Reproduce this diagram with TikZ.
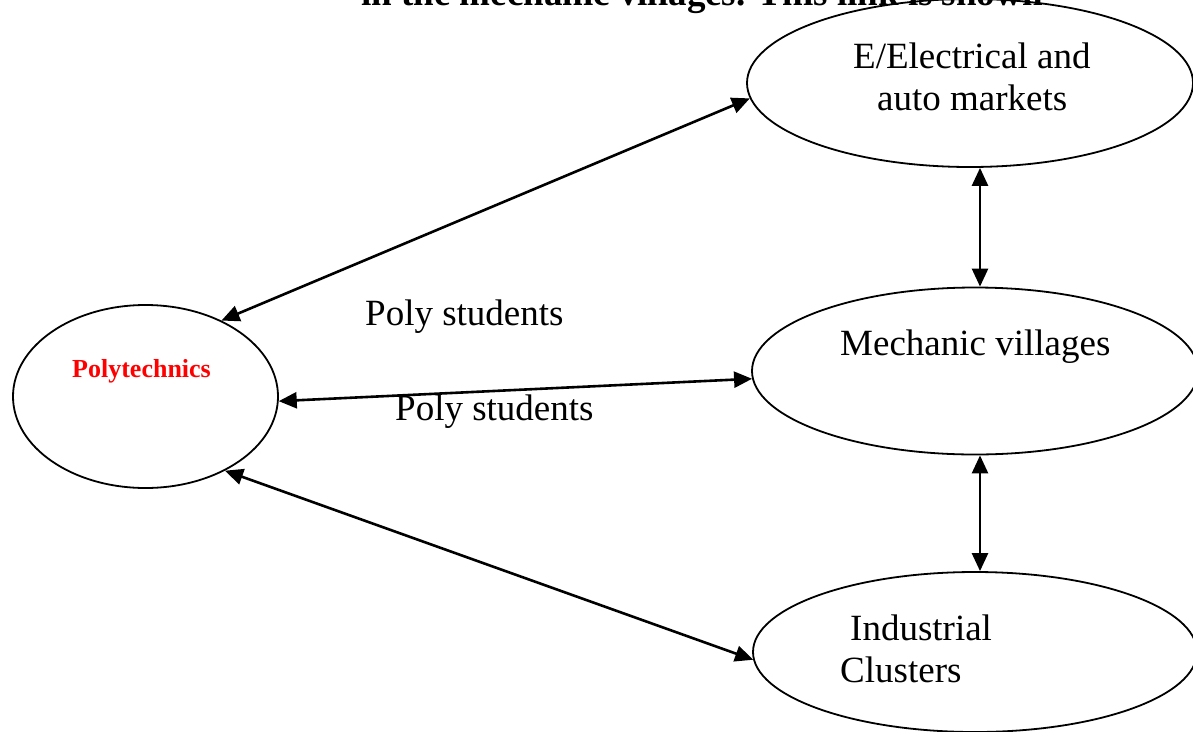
\documentclass[tikz,border=0pt]{standalone}
\usepackage{fontspec}
\setmainfont{Liberation Serif}
\usetikzlibrary{arrows.meta,shapes.geometric}

\tikzset{
  oval/.style={ellipse, draw=black, line width=1.8pt, inner sep=0pt},
  link/.style={line width=2.6pt, {Triangle[length=18pt,width=16pt]}-{Triangle[length=18pt,width=16pt]}},
  lbl/.style={inner sep=0pt, anchor=base west, font=\fontsize{37}{42}\selectfont},
}

\begin{document}
\begin{tikzpicture}[x=1pt, y=-1pt]
  \useasboundingbox (0,0) rectangle (1193,731);

  % running text line above the figure
  \node[lbl, font=\fontsize{37}{42}\selectfont\bfseries] (caption) at (361,5)
    {in the mechanic villages. This link is shown};

  % the four ovals
  \node[oval, minimum width=265pt, minimum height=183pt] (poly) at (145.5,396.5) {};
  \node[oval, minimum width=446pt, minimum height=168pt] (elec) at (970,83) {};
  \node[oval, minimum width=446pt, minimum height=167pt] (mech) at (975,371) {};
  \node[oval, minimum width=444pt, minimum height=160pt] (ind)  at (975,652) {};

  % connectors
  \draw[link] (poly.45)  -- (elec.184.6);
  \draw[link] (poly.-2.4) -- (mech.182);
  \draw[link] (poly.-43.5) -- (ind.182.3);
  \draw[link] ([xshift=10pt]elec.south) -- ([xshift=5pt]mech.north);
  \draw[link] ([xshift=5pt]mech.south) -- ([xshift=5pt]ind.north);

  % labels
  \node[lbl, font=\fontsize{26}{30}\selectfont\bfseries, text=red] (tpoly) at (72,377) {Polytechnics};
  \node[lbl] (telec1) at (853,68) {E/Electrical and};
  \node[lbl] (telec2) at (877,110) {auto markets};
  \node[lbl] (tmech) at (840,355) {Mechanic villages};
  \node[lbl] (tind1) at (850,640) {Industrial};
  \node[lbl] (tind2) at (840,682) {Clusters};
  \node[lbl] (stud1) at (365,325) {Poly students};
  \node[lbl] (stud2) at (395,420) {Poly students};
\end{tikzpicture}
\end{document}
